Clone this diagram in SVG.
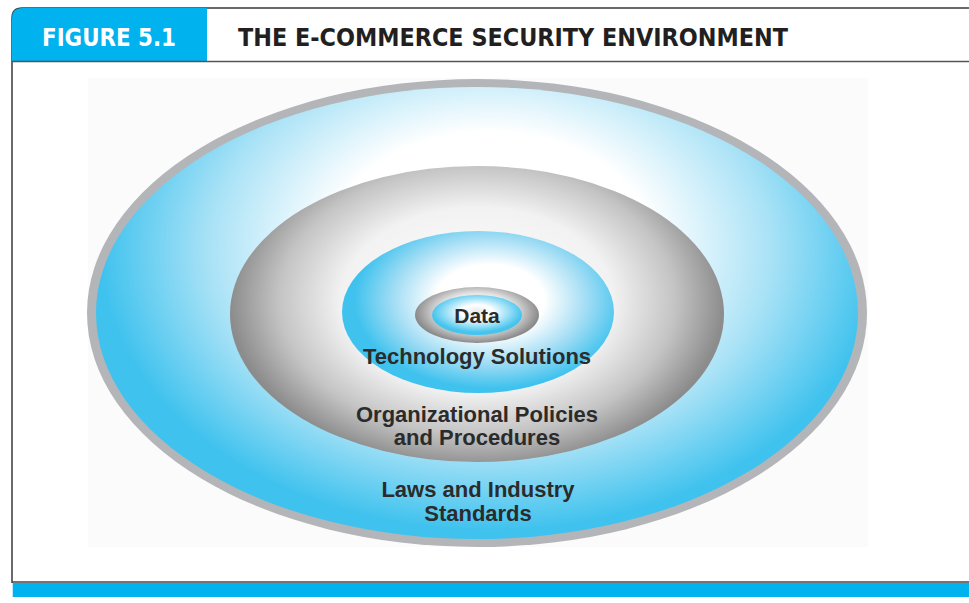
<svg xmlns="http://www.w3.org/2000/svg" width="969" height="603" viewBox="0 0 969 603">
<defs>
<radialGradient id="gBlueOuter" cx="490" cy="250" r="390" gradientUnits="userSpaceOnUse" gradientTransform="translate(490 250) scale(1 0.72) translate(-490 -250)">
<stop offset="0" stop-color="#ffffff"/>
<stop offset="0.42" stop-color="#ffffff"/>
<stop offset="0.72" stop-color="#a9e2f6"/>
<stop offset="1" stop-color="#3fc2ee"/>
</radialGradient>
<radialGradient id="gGray" cx="477" cy="300" r="247" gradientUnits="userSpaceOnUse" gradientTransform="translate(477 300) scale(1 0.68) translate(-477 -300)">
<stop offset="0" stop-color="#ffffff"/>
<stop offset="0.55" stop-color="#f2f2f2"/>
<stop offset="0.8" stop-color="#c4c4c4"/>
<stop offset="1" stop-color="#8c8c8c"/>
</radialGradient>
<radialGradient id="gBlueInner" cx="490" cy="300" r="136" gradientUnits="userSpaceOnUse" gradientTransform="translate(490 300) scale(1 0.65) translate(-490 -300)">
<stop offset="0" stop-color="#ffffff"/>
<stop offset="0.4" stop-color="#ffffff"/>
<stop offset="0.72" stop-color="#9fdcf4"/>
<stop offset="1" stop-color="#3fc2ee"/>
</radialGradient>
<radialGradient id="gGraySmall" cx="477" cy="312" r="62" gradientUnits="userSpaceOnUse" gradientTransform="translate(477 312) scale(1 0.5) translate(-477 -312)">
<stop offset="0.6" stop-color="#e6e6e6"/>
<stop offset="1" stop-color="#8a8a8a"/>
</radialGradient>
<radialGradient id="gBlueData" cx="477" cy="312" r="45" gradientUnits="userSpaceOnUse" gradientTransform="translate(477 312) scale(1 0.45) translate(-477 -312)">
<stop offset="0" stop-color="#e8e8e8"/>
<stop offset="0.35" stop-color="#ffffff"/>
<stop offset="1" stop-color="#45c4ee"/>
</radialGradient>
<style>
.lbl{font-family:"Liberation Sans",Arial,sans-serif;font-weight:bold;fill:#2b2b2b;text-anchor:middle;font-size:22px}
.hdr{font-family:"DejaVu Sans Condensed","Liberation Sans Narrow","Liberation Sans",sans-serif;font-weight:bold;font-size:25px}
</style>
</defs>
<rect x="0" y="0" width="969" height="603" fill="#ffffff"/>

<g id="frame">
<path d="M12 583 V18 Q12 8 22 8 H969" fill="none" stroke="#3a3a3a" stroke-width="1.5"/>
<path d="M12 61 V18 Q12 8 22 8 H207 V61 Z" fill="#00b2ee"/>
<line x1="12" y1="61.5" x2="969" y2="61.5" stroke="#555555" stroke-width="1.5"/>
<text x="42" y="46" class="hdr" fill="#ffffff" textLength="134" lengthAdjust="spacingAndGlyphs">FIGURE 5.1</text>
<text x="238" y="46" class="hdr" fill="#231f20" textLength="550" lengthAdjust="spacingAndGlyphs">THE E-COMMERCE SECURITY ENVIRONMENT</text>
<line x1="12" y1="582" x2="969" y2="582" stroke="#444444" stroke-width="1.5"/>
<rect x="12.75" y="583" width="956.25" height="14" fill="#00b2ee"/>
</g>

<rect x="88" y="78" width="780" height="469" fill="#fbfbfb"/>

<g id="laws">
<ellipse cx="477" cy="313" rx="390" ry="234" fill="#b3b5b8"/>
<ellipse cx="477" cy="313" rx="381" ry="226" fill="url(#gBlueOuter)"/>
<text class="lbl" x="478" y="497">Laws and Industry</text>
<text class="lbl" x="478" y="521">Standards</text>
</g>

<g id="policies">
<ellipse cx="477" cy="314" rx="247" ry="148" fill="url(#gGray)"/>
<text class="lbl" x="477" y="422">Organizational Policies</text>
<text class="lbl" x="477" y="445">and Procedures</text>
</g>

<g id="technology">
<ellipse cx="478" cy="312" rx="136" ry="81" fill="url(#gBlueInner)"/>
<text class="lbl" x="477" y="364">Technology Solutions</text>
</g>

<g id="data">
<ellipse cx="477" cy="315" rx="62" ry="28" fill="url(#gGraySmall)"/>
<ellipse cx="477" cy="315" rx="45" ry="20" fill="url(#gBlueData)"/>
<text class="lbl" x="477" y="323" style="font-size:21px">Data</text>
</g>

<g id="connectors"/>
</svg>
